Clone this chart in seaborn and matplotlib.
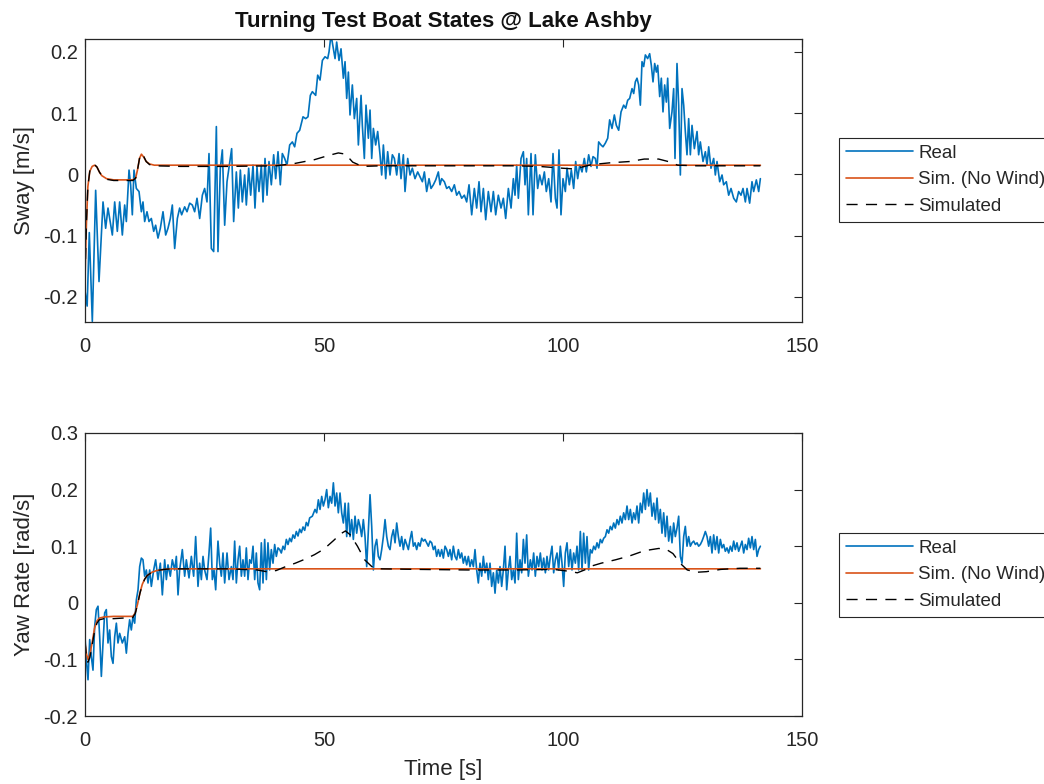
import numpy as np
import matplotlib
matplotlib.use("Agg")
import matplotlib.pyplot as plt
import seaborn as sns

# ---------------- data ----------------
sway_real_t = [
    0.0, 0.45, 0.9, 1.53, 2.23, 2.93, 3.77, 4.32, 4.81, 5.72,
    6.21, 6.76, 7.25, 7.81, 8.30, 8.65, 9.21, 9.55, 9.90, 10.25,
    10.74, 11.30, 11.79, 12.13, 12.48, 12.97, 13.39, 13.88, 14.37, 14.78,
    15.27, 15.76, 16.32, 16.88, 17.36, 17.85, 18.27, 18.76, 19.32, 19.80,
    20.22, 20.85, 21.34, 21.90, 22.45, 22.94, 23.43, 23.99, 24.55, 25.03,
    25.52, 25.94, 26.43, 26.92, 27.48, 27.82, 28.31, 28.73, 29.22, 29.71,
    30.26, 30.68, 31.10, 31.66, 32.08, 32.50, 32.91, 33.40, 33.75, 34.24,
    34.66, 35.15, 35.56, 35.98, 36.40, 36.89, 37.24, 37.66, 38.08, 38.49,
    38.98, 39.47, 39.89, 40.38, 40.86, 41.28, 41.77, 42.26, 42.82, 43.38,
    43.86, 44.35, 44.91, 45.61, 46.16, 46.65, 47.14, 47.56, 48.26, 48.68,
    49.17, 49.66, 50.21, 50.77, 51.05, 51.47, 51.96, 52.31, 52.65, 53.14,
    53.56, 54.05, 54.40, 54.75, 55.10, 55.44, 55.93, 56.35, 56.84, 57.19,
    57.75, 58.02, 58.44, 58.79, 59.28, 59.63, 59.98, 60.33, 60.81, 61.23,
    61.72, 62.07, 62.42, 62.91, 63.32, 63.81, 64.30, 64.72, 65.21, 65.70,
    66.11, 66.60, 66.95, 67.51, 68.00, 68.48, 69.04, 69.60, 70.09, 70.58,
    71.00, 71.48, 71.97, 72.39, 72.88, 73.37, 73.92, 74.27, 74.62, 75.18,
    75.67, 76.16, 76.71, 77.27, 77.76, 78.25, 78.81, 79.36, 79.85, 80.34,
    80.90, 81.45, 81.94, 82.43, 82.85, 83.34, 83.83, 84.38, 84.94, 85.43,
    85.92, 86.47, 87.03, 87.52, 88.01, 88.57, 89.13, 89.61, 89.96, 90.31,
    90.66, 91.22, 91.71, 92.05, 92.40, 92.75, 93.31, 93.73, 94.21, 94.70,
    95.12, 95.61, 96.10, 96.51, 97.00, 97.49, 97.91, 98.40, 98.75, 99.16,
    99.58, 100.00, 100.49, 100.84, 101.33, 101.74, 102.23, 102.65, 103.07, 103.49,
    103.98, 104.46, 104.88, 105.37, 105.86, 106.28, 106.77, 107.11, 107.46, 107.95,
    108.37, 108.86, 109.35, 109.76, 110.25, 110.74, 111.16, 111.65, 112.14, 112.69,
    113.11, 113.53, 113.95, 114.44, 114.79, 115.13, 115.48, 115.83, 116.18, 116.53,
    116.88, 117.23, 117.71, 118.13, 118.48, 118.83, 119.18, 119.53, 119.81, 120.23,
    120.57, 120.92, 121.27, 121.62, 121.90, 122.32, 122.80, 123.15, 123.43, 123.85,
    124.20, 124.55, 124.90, 125.25, 125.59, 125.94, 126.29, 126.64, 126.99, 127.48,
    128.04, 128.38, 128.73, 129.29, 129.78, 130.13, 130.48, 130.96, 131.52, 131.87,
    132.22, 132.78, 133.27, 133.61, 134.17, 134.66, 135.15, 135.71, 136.26, 136.75,
    137.24, 137.66, 138.15, 138.50, 139.05, 139.54, 139.89, 140.45, 140.94, 141.29,
]
sway_real_v = [
    -0.190, -0.215, -0.095, -0.240, -0.026, -0.175, -0.045, -0.088, -0.055, -0.099,
    -0.045, -0.093, -0.045, -0.099, -0.050, -0.077, 0.007, -0.017, -0.066, 0.007,
    -0.023, -0.028, -0.061, -0.045, -0.077, -0.061, -0.077, -0.072, -0.093, -0.083,
    -0.104, -0.088, -0.061, -0.099, -0.088, -0.072, -0.050, -0.121, -0.072, -0.055,
    -0.066, -0.053, -0.061, -0.047, -0.050, -0.061, -0.039, -0.072, -0.034, -0.023,
    -0.045, 0.034, -0.121, -0.126, 0.078, -0.126, 0.010, 0.040, -0.083, -0.012,
    0.018, 0.042, -0.077, 0.004, -0.055, 0.007, -0.045, -0.001, -0.050, 0.010,
    -0.034, 0.015, -0.055, 0.012, -0.028, 0.015, -0.045, 0.026, -0.034, 0.021,
    -0.017, 0.032, -0.007, 0.037, -0.017, 0.034, 0.026, 0.015, 0.048, 0.053,
    0.045, 0.067, 0.072, 0.094, 0.091, 0.094, 0.129, 0.135, 0.129, 0.162,
    0.154, 0.186, 0.192, 0.189, 0.200, 0.228, 0.205, 0.189, 0.216, 0.186,
    0.205, 0.157, 0.184, 0.124, 0.167, 0.097, 0.146, 0.091, 0.124, 0.048,
    0.129, 0.080, 0.026, 0.113, 0.059, 0.105, 0.026, 0.075, 0.048, 0.070,
    0.032, -0.001, 0.048, -0.007, 0.037, -0.001, 0.032, 0.026, -0.001, 0.034,
    -0.007, 0.032, -0.028, 0.026, -0.001, 0.010, -0.007, 0.004, -0.004, -0.012,
    0.004, -0.028, -0.007, -0.023, -0.017, -0.009, 0.004, -0.017, -0.007, -0.012,
    -0.023, -0.020, -0.028, -0.017, -0.034, -0.028, -0.039, -0.034, -0.045, -0.017,
    -0.066, -0.023, -0.055, -0.012, -0.061, -0.023, -0.074, -0.028, -0.061, -0.028,
    -0.066, -0.034, -0.055, -0.039, -0.072, -0.023, -0.055, -0.007, -0.034, 0.015,
    -0.039, 0.026, 0.037, -0.017, 0.026, -0.066, 0.034, -0.066, 0.032, -0.023,
    -0.001, -0.017, 0.004, -0.028, -0.007, -0.045, 0.034, -0.039, -0.055, 0.040,
    -0.066, -0.007, -0.028, 0.010, -0.017, 0.007, -0.023, 0.021, -0.007, 0.015,
    0.004, 0.026, 0.004, 0.032, 0.013, 0.029, 0.026, 0.010, 0.053, 0.048,
    0.045, 0.051, 0.059, 0.089, 0.075, 0.097, 0.080, 0.072, 0.102, 0.113,
    0.108, 0.121, 0.124, 0.140, 0.132, 0.151, 0.157, 0.146, 0.113, 0.184,
    0.176, 0.195, 0.189, 0.197, 0.178, 0.151, 0.181, 0.167, 0.178, 0.127,
    0.157, 0.102, 0.146, 0.118, 0.157, 0.075, 0.102, 0.140, 0.026, 0.181,
    0.113, -0.001, 0.140, 0.113, 0.070, 0.032, 0.091, 0.032, 0.080, 0.042,
    0.070, 0.032, 0.053, 0.021, 0.037, 0.015, 0.045, 0.010, 0.026, -0.001,
    0.021, -0.012, -0.001, -0.017, -0.012, -0.034, -0.023, -0.039, -0.045, -0.028,
    -0.034, -0.023, -0.045, -0.023, -0.047, -0.012, -0.028, -0.009, -0.028, -0.007,
]

sway_nowind_t = [0, 0.3, 0.6, 1.0, 1.5, 2.0, 2.5, 3.0, 3.5, 4.5, 6, 8, 10, 10.6,
                 11.0, 11.4, 11.8, 12.3, 12.8, 13.5, 14.5, 141.3]
sway_nowind_v = [-0.17, -0.08, -0.02, 0.005, 0.013, 0.015, 0.012, 0.004, -0.002,
                 -0.007, -0.009, -0.009, -0.009, -0.006, 0.008, 0.026, 0.033,
                 0.028, 0.021, 0.017, 0.015, 0.015]

sway_sim_t = [0, 0.3, 0.6, 1.0, 1.5, 2.0, 2.5, 3.0, 3.5, 4.5, 6, 8, 10, 10.6, 11.0,
              11.4, 11.8, 12.3, 12.8, 13.5, 14.5, 20, 30, 40, 44, 48, 51, 53, 54.5,
              56, 58, 62, 80, 90, 95, 100, 102, 104, 106, 110, 114, 117, 120, 122,
              124, 128, 141.3]
sway_sim_v = [-0.17, -0.08, -0.02, 0.005, 0.014, 0.016, 0.012, 0.004, -0.002, -0.008,
              -0.010, -0.010, -0.010, -0.006, 0.008, 0.026, 0.034, 0.029, 0.021,
              0.016, 0.014, 0.013, 0.013, 0.014, 0.018, 0.024, 0.031, 0.035, 0.033,
              0.020, 0.013, 0.014, 0.014, 0.014, 0.013, 0.010, 0.009, 0.012, 0.016,
              0.019, 0.021, 0.025, 0.025, 0.021, 0.015, 0.014, 0.014]

yaw_real_t = [
    0.0, 0.28, 0.63, 0.98, 1.32, 1.67, 2.02, 2.37, 2.72, 3.07,
    3.42, 3.77, 4.11, 4.46, 4.81, 5.16, 5.51, 5.86, 6.21, 6.56,
    6.90, 7.25, 7.81, 8.30, 8.65, 9.00, 9.34, 9.69, 10.04, 10.39,
    10.74, 11.09, 11.44, 11.79, 12.13, 12.48, 12.83, 13.18, 13.53, 13.88,
    14.37, 14.78, 15.27, 15.76, 16.18, 16.67, 17.02, 17.36, 17.85, 18.27,
    18.76, 19.11, 19.46, 19.80, 20.36, 20.85, 21.20, 21.76, 22.25, 22.73,
    23.15, 23.64, 23.99, 24.34, 24.69, 25.03, 25.52, 25.94, 26.29, 26.64,
    26.99, 27.34, 27.82, 28.17, 28.52, 28.87, 29.22, 29.71, 30.13, 30.61,
    30.96, 31.31, 31.66, 32.01, 32.36, 32.71, 33.05, 33.40, 33.75, 34.10,
    34.45, 34.80, 35.15, 35.50, 35.84, 36.19, 36.54, 36.89, 37.24, 37.59,
    37.94, 38.28, 38.63, 38.98, 39.33, 39.68, 40.03, 40.38, 40.73, 41.07,
    41.42, 41.77, 42.12, 42.47, 42.82, 43.17, 43.51, 43.86, 44.21, 44.56,
    44.91, 45.26, 45.61, 45.96, 46.30, 46.65, 47.00, 47.56,
    48.12, 48.47, 48.82, 49.17, 49.52, 49.87, 50.21, 50.56, 50.91, 51.26,
    51.61, 51.96, 52.31, 52.65, 53.00, 53.35, 53.70, 54.05, 54.40, 54.75,
    55.10, 55.44, 55.79, 56.14, 56.49, 56.84, 57.19, 57.54, 57.88, 58.23,
    58.58, 58.93, 59.28, 59.63, 59.98, 60.33, 60.67, 61.02, 61.37, 61.72,
    62.07, 62.42, 62.77, 63.12, 63.46, 63.81, 64.16, 64.51, 64.86, 65.21,
    65.56, 65.90, 66.25, 66.60, 66.95, 67.30, 67.65, 68.00, 68.35, 68.69,
    69.04, 69.39, 69.74, 70.09, 70.44, 70.79, 71.13, 71.48, 71.83, 72.18,
    72.53, 72.88, 73.23, 73.57, 73.92, 74.27, 74.62, 74.97, 75.32, 75.67,
    76.02, 76.36, 76.71, 77.06, 77.41, 77.76, 78.11, 78.46, 78.80, 79.15,
    79.50, 79.85, 80.20, 80.55, 80.90, 81.25, 81.59, 81.94, 82.29, 82.64,
    82.99, 83.34, 83.69, 84.04, 84.38, 84.73, 85.08, 85.43, 85.78, 86.13,
    86.48, 86.82, 87.17, 87.52, 87.87, 88.22, 88.57, 88.92, 89.27, 89.61,
    89.96, 90.31, 90.66, 91.01, 91.36, 91.71, 92.05, 92.40, 92.75,
    93.17, 93.52, 93.86, 94.21, 94.56, 94.91, 95.26, 95.61, 95.96, 96.31,
    96.65, 97.00, 97.35, 97.70, 98.05, 98.40, 98.75, 99.09, 99.44, 99.79,
    100.14, 100.49, 100.84, 101.19, 101.54, 101.88, 102.23, 102.58, 102.93, 103.28,
    103.63, 103.98, 104.32, 104.67, 105.02, 105.37, 105.72, 106.07, 106.42, 106.77,
    107.11, 107.46, 107.81, 108.16, 108.51, 108.86, 109.21, 109.55, 109.90, 110.25,
    110.60, 110.95, 111.30, 111.65, 111.99, 112.34, 112.69, 113.04, 113.39, 113.74,
    114.09, 114.44, 114.78, 115.13, 115.48, 115.83, 116.18, 116.53, 116.88, 117.23,
    117.57, 117.92, 118.27, 118.62, 118.97, 119.32, 119.67, 120.02, 120.36, 120.71,
    121.06, 121.41, 121.76, 122.11, 122.46, 122.80, 123.15, 123.50, 123.85, 124.20,
    124.55, 124.90, 125.25, 125.59, 125.94, 126.29, 126.64, 126.99, 127.34, 127.69,
    128.04, 128.38, 128.73, 129.08, 129.43, 129.78, 130.13, 130.48, 130.83, 131.17,
    131.52, 131.87, 132.22, 132.57, 132.92, 133.27, 133.61, 133.96, 134.31, 134.66,
    135.01, 135.36, 135.71, 136.05, 136.40, 136.75, 137.10, 137.45, 137.80, 138.15,
    138.50, 138.84, 139.19, 139.54, 139.89, 140.24, 140.59, 140.94, 141.29,
]
yaw_real_v = [
    -0.060, -0.101, -0.136, -0.065, -0.095, -0.119, -0.042, -0.012, -0.006, -0.060,
    -0.130, -0.071, -0.018, -0.012, -0.071, -0.048, -0.095, -0.107, -0.060, -0.036,
    -0.071, -0.054, -0.071, -0.060, -0.089, -0.054, -0.030, -0.048, -0.024, -0.036,
    0.005, 0.023, 0.064, 0.079, 0.076, 0.047, 0.058, 0.035, 0.058, 0.029,
    0.058, 0.076, 0.041, 0.070, 0.014, 0.076, 0.041, 0.067, 0.047, 0.076,
    0.058, 0.082, 0.014, 0.058, 0.094, 0.047, 0.076, 0.044, 0.082, 0.047,
    0.117, 0.029, 0.070, 0.041, 0.082, 0.058, 0.041, 0.088, 0.132, 0.041,
    0.058, 0.023, 0.109, 0.070, 0.047, 0.088, 0.035, 0.088, 0.041, 0.064,
    0.041, 0.109, 0.035, 0.076, 0.100, 0.047, 0.076, 0.047, 0.097, 0.041,
    0.076, 0.070, 0.100, 0.041, 0.088, 0.035, 0.023, 0.106, 0.035, 0.112,
    0.041, 0.106, 0.058, 0.094, 0.070, 0.103, 0.082, 0.097, 0.094, 0.088,
    0.100, 0.094, 0.112, 0.103, 0.114, 0.108, 0.120, 0.114, 0.126, 0.118,
    0.130, 0.124, 0.134, 0.128, 0.142, 0.136, 0.150, 0.153,
    0.165, 0.159, 0.182, 0.165, 0.188, 0.171, 0.182, 0.200, 0.168, 0.188,
    0.176, 0.212, 0.171, 0.194, 0.159, 0.194, 0.159, 0.141, 0.176, 0.117,
    0.176, 0.117, 0.147, 0.112, 0.153, 0.123, 0.147, 0.135, 0.117, 0.147,
    0.117, 0.064, 0.129, 0.191, 0.135, 0.058, 0.100, 0.112, 0.082, 0.076,
    0.094, 0.117, 0.147, 0.117, 0.100, 0.094, 0.117, 0.129, 0.106, 0.141,
    0.117, 0.100, 0.117, 0.094, 0.112, 0.103, 0.094, 0.112, 0.126, 0.100,
    0.106, 0.094, 0.106, 0.100, 0.114, 0.109, 0.112, 0.106, 0.100, 0.109,
    0.106, 0.094, 0.100, 0.082, 0.094, 0.082, 0.094, 0.079, 0.100, 0.094,
    0.082, 0.094, 0.076, 0.100, 0.082, 0.076, 0.094, 0.079, 0.088, 0.070,
    0.082, 0.067, 0.082, 0.064, 0.076, 0.064, 0.094, 0.058, 0.035, 0.070,
    0.047, 0.082, 0.053, 0.070, 0.041, 0.070, 0.029, 0.053, 0.017, 0.058,
    0.035, 0.064, 0.029, 0.058, 0.100, 0.023, 0.058, 0.082, 0.041, 0.058,
    0.035, 0.123, 0.041, 0.076, 0.053, 0.112, 0.070, 0.120, 0.047,
    0.076, 0.058, 0.088, 0.047, 0.082, 0.064, 0.088, 0.058, 0.079, 0.053,
    0.082, 0.058, 0.082, 0.100, 0.053, 0.076, 0.088, 0.058, 0.100, 0.070,
    0.029, 0.088, 0.106, 0.064, 0.094, 0.058, 0.088, 0.070, 0.100, 0.058,
    0.126, 0.058, 0.123, 0.070, 0.117, 0.058, 0.094, 0.088, 0.100, 0.094,
    0.106, 0.097, 0.112, 0.106, 0.114, 0.117, 0.129, 0.123, 0.135, 0.129,
    0.141, 0.132, 0.147, 0.138, 0.153, 0.141, 0.159, 0.147, 0.171, 0.147,
    0.165, 0.141, 0.159, 0.147, 0.171, 0.141, 0.176, 0.159, 0.194, 0.165,
    0.200, 0.171, 0.194, 0.153, 0.176, 0.147, 0.185, 0.141, 0.165, 0.123,
    0.159, 0.117, 0.153, 0.109, 0.135, 0.106, 0.141, 0.117, 0.132, 0.153,
    0.082, 0.070, 0.117, 0.135, 0.100, 0.117, 0.100, 0.106, 0.109, 0.103,
    0.106, 0.100, 0.103, 0.109, 0.117, 0.126, 0.117, 0.100, 0.117, 0.088,
    0.120, 0.094, 0.117, 0.088, 0.112, 0.097, 0.103, 0.091, 0.097, 0.088,
    0.100, 0.091, 0.109, 0.094, 0.106, 0.091, 0.100, 0.109, 0.088, 0.103,
    0.094, 0.114, 0.097, 0.117, 0.094, 0.112, 0.082, 0.094, 0.100,
]

yaw_nowind_t = [0, 0.3, 0.6, 1.0, 1.5, 2.0, 2.5, 3.0, 4.0, 6, 8, 10, 10.5, 11.0,
                11.5, 12.0, 12.5, 13.0, 14.0, 15.0, 16.5, 18, 141.3]
yaw_nowind_v = [-0.07, -0.09, -0.10, -0.092, -0.07, -0.045, -0.032, -0.027, -0.025,
                -0.024, -0.024, -0.024, -0.018, -0.002, 0.018, 0.033, 0.042, 0.048,
                0.054, 0.057, 0.059, 0.060, 0.060]

yaw_sim_t = [0, 0.3, 0.6, 1.0, 1.5, 2.0, 2.5, 3.0, 4.0, 6, 8, 10, 10.5, 11.0, 11.5,
             12.0, 12.5, 13.0, 14.0, 15.0, 16.5, 18, 30, 36, 38, 40, 42, 44, 46, 48,
             50, 52, 53.5, 54.5, 55.5, 57, 58.5, 60, 62, 70, 80, 90, 98, 101, 103,
             104.5, 106, 108, 111, 114, 117, 120, 121.5, 123, 124.5, 126, 128, 130,
             133, 137, 141.3]
yaw_sim_v = [-0.07, -0.095, -0.105, -0.097, -0.075, -0.05, -0.036, -0.03, -0.028,
             -0.028, -0.027, -0.026, -0.019, -0.003, 0.017, 0.032, 0.042, 0.048,
             0.054, 0.057, 0.059, 0.060, 0.060, 0.058, 0.055, 0.057, 0.064, 0.070,
             0.077, 0.085, 0.095, 0.110, 0.122, 0.127, 0.120, 0.100, 0.076, 0.064,
             0.060, 0.059, 0.058, 0.058, 0.059, 0.056, 0.053, 0.058, 0.065, 0.070,
             0.076, 0.083, 0.092, 0.096, 0.095, 0.087, 0.070, 0.058, 0.054, 0.055,
             0.059, 0.061, 0.061]

series_labels = ["Real", "Sim. (No Wind)", "Simulated"]
x_ticks = [0, 50, 100, 150]
sway_ticks = [-0.2, -0.1, 0, 0.1, 0.2]
sway_tick_labels = ["-0.2", "-0.1", "0", "0.1", "0.2"]
yaw_ticks = [-0.2, -0.1, 0, 0.1, 0.2, 0.3]
yaw_tick_labels = ["-0.2", "-0.1", "0", "0.1", "0.2", "0.3"]

assert len(sway_real_t) == len(sway_real_v)
assert len(yaw_real_t) == len(yaw_real_v)

# ---------------- style ----------------
sns.set_style("white")
plt.rcParams["font.family"] = ["Liberation Sans", "DejaVu Sans"]
plt.rcParams["axes.unicode_minus"] = False

BLUE = "#0072BD"
ORANGE = "#D95319"
AXC = "#262626"
W, H = 1044, 784

fig = plt.figure(figsize=(W / 100, H / 100), dpi=100)
ax1 = fig.add_axes([85 / W, 1 - 322 / H, 717 / W, 283 / H])
ax2 = fig.add_axes([85 / W, 1 - 716 / H, 717 / W, 283 / H])


def draw(ax, rt, rv, nt, nv, st, sv):
    sns.lineplot(x=np.array(rt), y=np.array(rv), ax=ax, color=BLUE, lw=1.2,
                 sort=False, estimator=None, label=series_labels[0])
    sns.lineplot(x=np.array(nt), y=np.array(nv), ax=ax, color=ORANGE, lw=1.2,
                 sort=False, estimator=None, label=series_labels[1])
    sns.lineplot(x=np.array(st), y=np.array(sv), ax=ax, color="black", lw=1.0,
                 sort=False, estimator=None, label=series_labels[2],
                 linestyle=(0, (8, 6)))


draw(ax1, sway_real_t, sway_real_v, sway_nowind_t, sway_nowind_v, sway_sim_t, sway_sim_v)
draw(ax2, yaw_real_t, yaw_real_v, yaw_nowind_t, yaw_nowind_v, yaw_sim_t, yaw_sim_v)

ax1.set_ylim(-0.241, 0.221)
ax1.set_yticks(sway_ticks)
ax1.set_yticklabels(sway_tick_labels)
ax2.set_ylim(-0.2, 0.3)
ax2.set_yticks(yaw_ticks)
ax2.set_yticklabels(yaw_tick_labels)

for ax in (ax1, ax2):
    ax.set_xlim(0, 150)
    ax.set_xticks(x_ticks)
    ax.set_xticklabels([str(v) for v in x_ticks])
    for s in ax.spines.values():
        s.set_color(AXC)
        s.set_linewidth(0.9)
        s.set_visible(True)
    ax.tick_params(direction="in", top=True, right=True, length=6, width=0.8,
                   colors=AXC, labelsize=14.5)
    ax.tick_params(axis="x", pad=11)
    ax.tick_params(axis="y", pad=5)
    ax.set_xlabel("")

ax1.set_ylabel("Sway [m/s]", fontsize=16, color=AXC)
ax2.set_ylabel("Yaw Rate [rad/s]", fontsize=16, color=AXC)
ax1.yaxis.set_label_coords(-0.0697, 0.5)
ax2.yaxis.set_label_coords(-0.0697, 0.5)
ax2.set_xlabel("Time [s]", fontsize=16, color=AXC)
ax2.xaxis.set_label_coords(0.5, -0.153)
ax1.set_title("Turning Test Boat States @ Lake Ashby", fontsize=16,
              fontweight="bold", color="#111111", pad=9)

for ax, top in ((ax1, 138), (ax2, 533)):
    handles, labels = ax.get_legend_handles_labels()
    leg = ax.legend(handles, labels, loc="upper left",
                    bbox_to_anchor=(839 / W, 1 - top / H),
                    bbox_transform=fig.transFigure, borderaxespad=0,
                    fontsize=13.5, handlelength=3.6, handletextpad=0.28,
                    borderpad=0.36, labelspacing=0.5, fancybox=False,
                    framealpha=1, edgecolor=AXC)
    leg.get_frame().set_linewidth(0.8)
    for t in leg.get_texts():
        t.set_color(AXC)

fig.savefig("out.png", dpi=100)
